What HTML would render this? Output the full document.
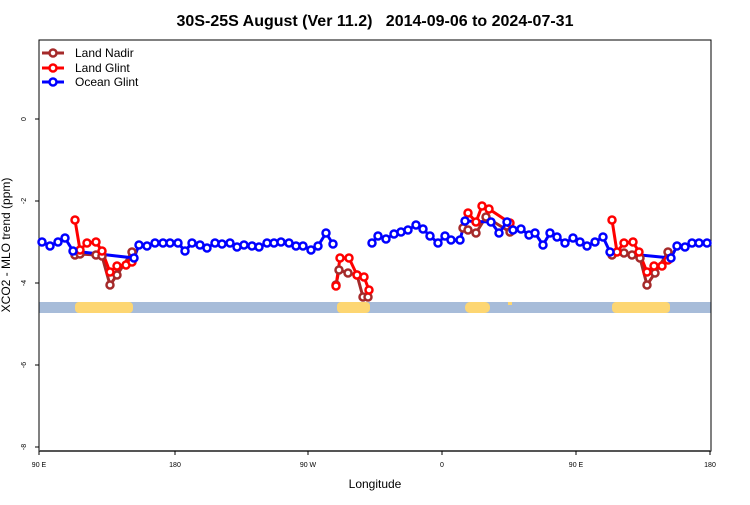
<!DOCTYPE html>
<html><head><meta charset="utf-8"><style>body{margin:0;background:#fff}</style></head><body>
<svg width="750" height="500" xmlns="http://www.w3.org/2000/svg" font-family="Liberation Sans, sans-serif">
<rect width="750" height="500" fill="#fff"/>
<text x="375" y="26" text-anchor="middle" font-size="16" font-weight="bold" xml:space="preserve">30S-25S August (Ver 11.2)   2014-09-06 to 2024-07-31</text>
<rect x="39" y="302" width="672" height="11" fill="#a7bcd9"/>
<g fill="#fdd672">
<rect x="75" y="302" width="58" height="11" rx="4"/>
<rect x="337" y="302" width="33" height="11" rx="4"/>
<rect x="465" y="302" width="25" height="11" rx="5"/>
<rect x="508" y="302" width="4" height="3"/>
<rect x="612" y="302" width="58" height="11" rx="4"/>
</g>
<rect x="39" y="40" width="672" height="411" fill="none" stroke="#000" stroke-width="1"/>
<line x1="39" y1="451" x2="711" y2="451" stroke="#555" stroke-width="2"/>
<g stroke="#000" stroke-width="1">
<line x1="35" y1="119" x2="39" y2="119"/><line x1="35" y1="201" x2="39" y2="201"/><line x1="35" y1="283" x2="39" y2="283"/><line x1="35" y1="365" x2="39" y2="365"/><line x1="35" y1="447" x2="39" y2="447"/>
<line x1="39" y1="451" x2="39" y2="455"/><line x1="175" y1="451" x2="175" y2="455"/><line x1="308" y1="451" x2="308" y2="455"/><line x1="442" y1="451" x2="442" y2="455"/><line x1="576" y1="451" x2="576" y2="455"/><line x1="710" y1="451" x2="710" y2="455"/>
</g>
<g font-size="7" text-anchor="middle">
<text transform="translate(26,119) rotate(-90)">0</text>
<text transform="translate(26,201) rotate(-90)">-2</text>
<text transform="translate(26,283) rotate(-90)">-4</text>
<text transform="translate(26,365) rotate(-90)">-6</text>
<text transform="translate(26,447) rotate(-90)">-8</text>
<text x="39" y="467">90 E</text><text x="175" y="467">180</text><text x="308" y="467">90 W</text><text x="442" y="467">0</text><text x="576" y="467">90 E</text><text x="710" y="467">180</text>
</g>
<text x="375" y="488" text-anchor="middle" font-size="12">Longitude</text>
<text transform="translate(10,245) rotate(-90)" text-anchor="middle" font-size="12">XCO2 - MLO trend (ppm)</text>
<g fill="none" stroke-width="3" stroke-linejoin="round">
<polyline stroke="#a52a2a" points="75,255 80,254 96,255 102,256 110,285 117,275 132,252"/>
<polyline stroke="#a52a2a" points="336,285 339,270 348,273 357,275 363,297 368,297"/>
<polyline stroke="#a52a2a" points="463,228 468,230 476,233 486,217 510,232"/>
<polyline stroke="#a52a2a" points="612,255 624,253 632,255 640,258 647,285 655,273 668,252"/>
<polyline stroke="#f00" points="75,220 80,250 87,243 96,242 102,251 110,272 117,266 126,265 132,262"/>
<polyline stroke="#f00" points="336,286 340,258 349,258 357,275 364,277 369,290"/>
<polyline stroke="#f00" points="468,213 476,222 482,206 489,209 510,223"/>
<polyline stroke="#f00" points="612,220 617,252 624,243 633,242 639,252 647,272 654,266 662,266 668,260"/>
<polyline stroke="#00f" points="42,242 50,246 58,242 65,238 73,251 134,258 139,245 147,246 155,243 163,243 170,243 178,243 185,251 192,243 200,245 207,248 215,243 222,244 230,243 237,247 244,245 252,246 259,247 267,243 274,243 281,242 289,243 296,246 303,246 311,250 318,246 326,233 333,244"/>
<polyline stroke="#00f" points="372,243 378,236 386,239 394,234 401,232 408,230 416,225 423,229 430,236 438,243 445,236 451,240 460,240 465,221 491,222 499,233 507,222 513,230 521,229 529,235 535,233 543,245 550,233 557,237 565,243 573,238 580,242 587,246 595,242 603,237 610,252 671,258 677,246 685,247 692,243 699,243 707,243"/>
</g>
<g fill="#fff" stroke-width="2.5">
<g stroke="#a52a2a">
<circle cx="75" cy="255" r="3.5"/><circle cx="80" cy="254" r="3.5"/><circle cx="96" cy="255" r="3.5"/><circle cx="102" cy="256" r="3.5"/><circle cx="110" cy="285" r="3.5"/><circle cx="117" cy="275" r="3.5"/><circle cx="132" cy="252" r="3.5"/>
<circle cx="336" cy="285" r="3.5"/><circle cx="339" cy="270" r="3.5"/><circle cx="348" cy="273" r="3.5"/><circle cx="357" cy="275" r="3.5"/><circle cx="363" cy="297" r="3.5"/><circle cx="368" cy="297" r="3.5"/>
<circle cx="463" cy="228" r="3.5"/><circle cx="468" cy="230" r="3.5"/><circle cx="476" cy="233" r="3.5"/><circle cx="486" cy="217" r="3.5"/><circle cx="510" cy="232" r="3.5"/>
<circle cx="612" cy="255" r="3.5"/><circle cx="624" cy="253" r="3.5"/><circle cx="632" cy="255" r="3.5"/><circle cx="640" cy="258" r="3.5"/><circle cx="647" cy="285" r="3.5"/><circle cx="655" cy="273" r="3.5"/><circle cx="668" cy="252" r="3.5"/>
</g>
<g stroke="#f00">
<circle cx="75" cy="220" r="3.5"/><circle cx="80" cy="250" r="3.5"/><circle cx="87" cy="243" r="3.5"/><circle cx="96" cy="242" r="3.5"/><circle cx="102" cy="251" r="3.5"/><circle cx="110" cy="272" r="3.5"/><circle cx="117" cy="266" r="3.5"/><circle cx="126" cy="265" r="3.5"/><circle cx="132" cy="262" r="3.5"/>
<circle cx="336" cy="286" r="3.5"/><circle cx="340" cy="258" r="3.5"/><circle cx="349" cy="258" r="3.5"/><circle cx="357" cy="275" r="3.5"/><circle cx="364" cy="277" r="3.5"/><circle cx="369" cy="290" r="3.5"/>
<circle cx="468" cy="213" r="3.5"/><circle cx="476" cy="222" r="3.5"/><circle cx="482" cy="206" r="3.5"/><circle cx="489" cy="209" r="3.5"/><circle cx="510" cy="223" r="3.5"/>
<circle cx="612" cy="220" r="3.5"/><circle cx="617" cy="252" r="3.5"/><circle cx="624" cy="243" r="3.5"/><circle cx="633" cy="242" r="3.5"/><circle cx="639" cy="252" r="3.5"/><circle cx="647" cy="272" r="3.5"/><circle cx="654" cy="266" r="3.5"/><circle cx="662" cy="266" r="3.5"/><circle cx="668" cy="260" r="3.5"/>
</g>
<g stroke="#00f">
<circle cx="42" cy="242" r="3.5"/><circle cx="50" cy="246" r="3.5"/><circle cx="58" cy="242" r="3.5"/><circle cx="65" cy="238" r="3.5"/><circle cx="73" cy="251" r="3.5"/><circle cx="134" cy="258" r="3.5"/><circle cx="139" cy="245" r="3.5"/><circle cx="147" cy="246" r="3.5"/><circle cx="155" cy="243" r="3.5"/><circle cx="163" cy="243" r="3.5"/><circle cx="170" cy="243" r="3.5"/><circle cx="178" cy="243" r="3.5"/><circle cx="185" cy="251" r="3.5"/><circle cx="192" cy="243" r="3.5"/><circle cx="200" cy="245" r="3.5"/><circle cx="207" cy="248" r="3.5"/><circle cx="215" cy="243" r="3.5"/><circle cx="222" cy="244" r="3.5"/><circle cx="230" cy="243" r="3.5"/><circle cx="237" cy="247" r="3.5"/><circle cx="244" cy="245" r="3.5"/><circle cx="252" cy="246" r="3.5"/><circle cx="259" cy="247" r="3.5"/><circle cx="267" cy="243" r="3.5"/><circle cx="274" cy="243" r="3.5"/><circle cx="281" cy="242" r="3.5"/><circle cx="289" cy="243" r="3.5"/><circle cx="296" cy="246" r="3.5"/><circle cx="303" cy="246" r="3.5"/><circle cx="311" cy="250" r="3.5"/><circle cx="318" cy="246" r="3.5"/><circle cx="326" cy="233" r="3.5"/><circle cx="333" cy="244" r="3.5"/>
<circle cx="372" cy="243" r="3.5"/><circle cx="378" cy="236" r="3.5"/><circle cx="386" cy="239" r="3.5"/><circle cx="394" cy="234" r="3.5"/><circle cx="401" cy="232" r="3.5"/><circle cx="408" cy="230" r="3.5"/><circle cx="416" cy="225" r="3.5"/><circle cx="423" cy="229" r="3.5"/><circle cx="430" cy="236" r="3.5"/><circle cx="438" cy="243" r="3.5"/><circle cx="445" cy="236" r="3.5"/><circle cx="451" cy="240" r="3.5"/><circle cx="460" cy="240" r="3.5"/><circle cx="465" cy="221" r="3.5"/><circle cx="491" cy="222" r="3.5"/><circle cx="499" cy="233" r="3.5"/><circle cx="507" cy="222" r="3.5"/><circle cx="513" cy="230" r="3.5"/><circle cx="521" cy="229" r="3.5"/><circle cx="529" cy="235" r="3.5"/><circle cx="535" cy="233" r="3.5"/><circle cx="543" cy="245" r="3.5"/><circle cx="550" cy="233" r="3.5"/><circle cx="557" cy="237" r="3.5"/><circle cx="565" cy="243" r="3.5"/><circle cx="573" cy="238" r="3.5"/><circle cx="580" cy="242" r="3.5"/><circle cx="587" cy="246" r="3.5"/><circle cx="595" cy="242" r="3.5"/><circle cx="603" cy="237" r="3.5"/><circle cx="610" cy="252" r="3.5"/><circle cx="671" cy="258" r="3.5"/><circle cx="677" cy="246" r="3.5"/><circle cx="685" cy="247" r="3.5"/><circle cx="692" cy="243" r="3.5"/><circle cx="699" cy="243" r="3.5"/><circle cx="707" cy="243" r="3.5"/>
</g>
</g>
<g stroke-width="3">
<line x1="42" y1="53" x2="64" y2="53" stroke="#a52a2a"/><circle cx="53" cy="53" r="3.5" fill="#fff" stroke="#a52a2a" stroke-width="2.5"/>
<line x1="42" y1="68" x2="64" y2="68" stroke="#f00"/><circle cx="53" cy="68" r="3.5" fill="#fff" stroke="#f00" stroke-width="2.5"/>
<line x1="42" y1="82" x2="64" y2="82" stroke="#00f"/><circle cx="53" cy="82" r="3.5" fill="#fff" stroke="#00f" stroke-width="2.5"/>
</g>
<g font-size="12">
<text x="75" y="57">Land Nadir</text><text x="75" y="72">Land Glint</text><text x="75" y="86">Ocean Glint</text>
</g>
</svg>
</body></html>
